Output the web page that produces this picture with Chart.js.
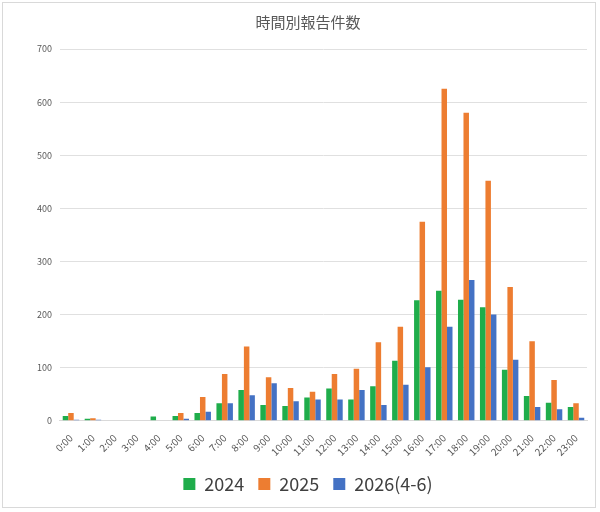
<!DOCTYPE html>
<html><head><meta charset="utf-8">
<script src="https://cdn.jsdelivr.net/npm/chart.js@4"></script>
<style>body{margin:0;background:#fff}#w{position:absolute;left:2px;top:2px;width:594px;height:506px;border:1px solid #d9d9d9;box-sizing:border-box}</style>
</head><body><div id="w"><canvas id="c"></canvas></div>
<script>
const categories=["0:00","1:00","2:00","3:00","4:00","5:00","6:00","7:00","8:00","9:00","10:00","11:00","12:00","13:00","14:00","15:00","16:00","17:00","18:00","19:00","20:00","21:00","22:00","23:00"];
const s2024=[9,4,1,1,8,9,15,33,58,30,28,44,61,40,65,113,227,245,228,214,96,47,34,26];
const s2025=[15,5,1,1,1,15,45,88,140,82,62,55,88,98,148,177,375,625,580,452,252,150,77,33];
const s2026=[2,2,1,0,1,4,17,33,48,71,37,40,40,58,30,68,101,177,265,200,115,26,22,6];
const yTicks=[0,100,200,300,400,500,600,700];
const F="'Noto Sans CJK JP','Noto Sans',sans-serif";
new Chart(document.getElementById('c'),{type:'bar',
data:{labels:categories,datasets:[
{label:'2024',data:s2024,backgroundColor:'#1fad4b'},
{label:'2025',data:s2025,backgroundColor:'#ed7d31'},
{label:'2026(4-6)',data:s2026,backgroundColor:'#4472c4'}]},
options:{responsive:true,maintainAspectRatio:false,animation:false,
layout:{padding:{left:26,right:8,top:4,bottom:4}},
datasets:{bar:{categoryPercentage:0.75,barPercentage:1}},
plugins:{title:{display:true,text:'時間別報告件数',color:'#595959',font:{family:F,size:15,weight:'normal'},padding:{top:6,bottom:18}},
legend:{position:'bottom',labels:{color:'#404040',font:{family:F,size:18},boxWidth:12,boxHeight:12,padding:14}}},
scales:{y:{min:0,max:700,afterBuildTicks:a=>{a.ticks=yTicks.map(v=>({value:v}));},ticks:{color:'#595959',font:{family:F,size:9},padding:8},grid:{color:'#e0e0e0',drawTicks:false},border:{display:false}},
x:{grid:{display:false},border:{color:'#d9d9d9'},ticks:{color:'#595959',font:{family:F,size:10},maxRotation:45,minRotation:45}}}}});
</script></body></html>
